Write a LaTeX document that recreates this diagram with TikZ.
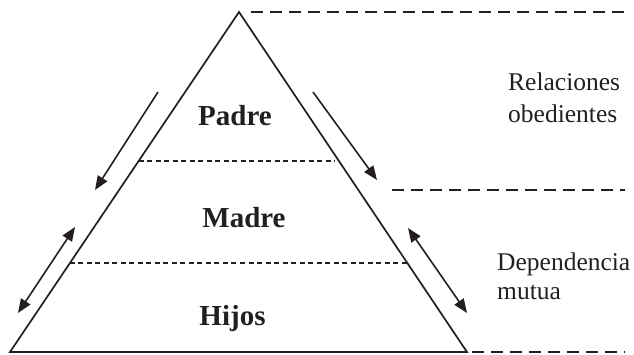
\documentclass[tikz,border=0pt]{standalone}
\usepackage{fontspec}
\setmainfont{Liberation Serif}
\usetikzlibrary{calc,arrows.meta}
\definecolor{ink}{HTML}{231F20}

\begin{document}
\begin{tikzpicture}[x=1pt, y=-1pt, >={Triangle[length=14pt,width=11pt]},
    color=ink,
    tier/.style={font=\fontsize{29}{32}\selectfont\bfseries, anchor=base, inner sep=0pt},
    remark/.style={font=\fontsize{25.5}{30}\selectfont, anchor=base west, inner sep=0pt},
    rim/.style={dash pattern=on 12pt off 7pt, line width=1.5pt},
    divider/.style={dash pattern=on 5pt off 3.5pt, line width=1.2pt},
    flow/.style={line width=1.6pt}
  ]
    \useasboundingbox (0,0) rectangle (634,354);

    % pyramid corners
    \coordinate (top) at (239,12);
    \coordinate (bl) at (10,352);
    \coordinate (br) at (467,352);
    \draw[line width=1.7pt, line join=miter] (top) -- (bl) -- (br) -- cycle;

    % levels inside the pyramid
    \coordinate (d1l) at ($(top)!0.438!(bl)$);
    \coordinate (d1r) at ($(top)!0.42!(br)$);
    \coordinate (d2l) at ($(top)!0.738!(bl)$);
    \coordinate (d2r) at ($(top)!0.738!(br)$);
    \draw[divider] (d1l) -- (d1r |- d1l);
    \draw[divider] (d2l) -- (d2r);

    % guides on the right
    \coordinate (g1a) at (251,12);
    \coordinate (g1b) at (625,12);
    \coordinate (g2a) at (392,190);
    \coordinate (g2b) at (625,190);
    \coordinate (g3a) at (472,352);
    \coordinate (g3b) at (625,352);
    \draw[rim] (g1a) -- (g1b);
    \draw[rim] (g2a) -- (g2b);
    \draw[rim] (g3a) -- (g3b);

    % labels
    \node[tier] (padre) at (235,125) {Padre};
    \node[tier] (madre) at (244,227) {Madre};
    \node[tier] (hijos) at (232.5,325) {Hijos};
    \node[remark] (rel) at (508,90) {Relaciones};
    \node[remark] (obe) at (508,122.7) {obedientes};
    \node[remark] (dep) at (497,270) {Dependencia};
    \node[remark] (mut) at (497,299) {mutua};

    % arrows along the sides
    \coordinate (la1) at (158,92);
    \coordinate (la2) at (95,190);
    \coordinate (lb1) at (75,227);
    \coordinate (lb2) at (18,313);
    \coordinate (ra1) at (313,92);
    \coordinate (ra2) at (377,180);
    \coordinate (rb1) at (408,228);
    \coordinate (rb2) at (467,313);
    \draw[flow, ->] (la1) -- (la2);
    \draw[flow, <->] (lb1) -- (lb2);
    \draw[flow, ->] (ra1) -- (ra2);
    \draw[flow, <->] (rb1) -- (rb2);
\end{tikzpicture}
\end{document}
